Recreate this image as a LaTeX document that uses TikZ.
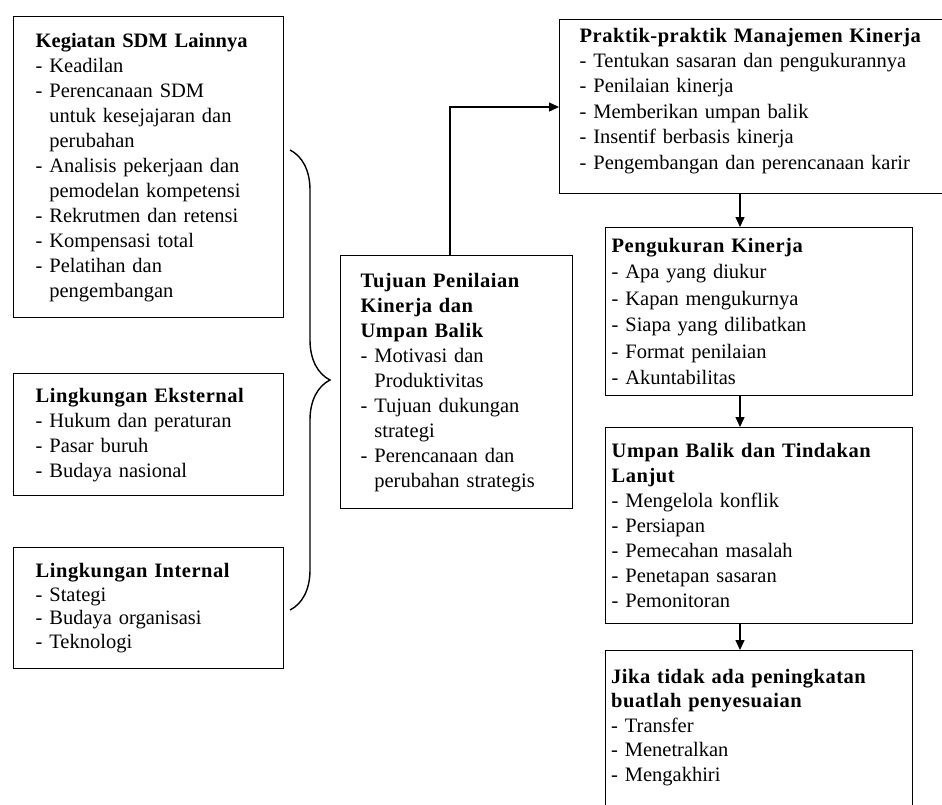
\documentclass[tikz,border=0pt]{standalone}
\usepackage{fontspec}
\setmainfont{Liberation Serif}
\usetikzlibrary{arrows.meta,decorations.pathreplacing,calc}

\tikzset{
  box/.style={draw, line width=1.4pt, anchor=north west, align=left, inner ysep=0pt},
  leading/.style={font=\fontsize{20.5}{#1}\selectfont},
  arr/.style={-{Triangle[length=10pt,width=9pt]}, line width=1.4pt},
}
\newcommand{\ind}{\phantom{-\ }}
\newcommand{\hd}[1]{\textbf{\addfontfeature{LetterSpace=2.5}#1}}

\begin{document}
\begin{tikzpicture}[x=1pt, y=-1pt]
\useasboundingbox (0,0) rectangle (942,804);
% left column
\node[box, leading=25pt, inner xsep=22pt, minimum width=270pt, text width=226pt, minimum height=301pt] (sdm) at (13,16)
  {\textbf{Kegiatan SDM Lainnya}\\- Keadilan\\- Perencanaan SDM\\\ind untuk kesejajaran dan\\\ind perubahan\\- Analisis pekerjaan dan\\\ind pemodelan kompetensi\\- Rekrutmen dan retensi\\- Kompensasi total\\- Pelatihan dan\\\ind pengembangan};
\node[box, leading=25pt, inner xsep=22pt, minimum width=270pt, text width=226pt, minimum height=122pt] (eks) at (13,373)
  {\hd{Lingkungan Eksternal}\\- Hukum dan peraturan\\- Pasar buruh\\- Budaya nasional};
\node[box, leading=23.5pt, inner xsep=22pt, minimum width=270pt, text width=226pt, minimum height=121pt] (int) at (13,547)
  {\hd{Lingkungan Internal}\\- Stategi\\- Budaya organisasi\\- Teknologi};
% brace and centre
\coordinate (bracetop) at (290,150);
\coordinate (bracebot) at (290,610);
\draw[line width=1.4pt, decorate, decoration={brace, amplitude=40pt}] (bracetop) -- (bracebot);
\node[box, leading=25pt, inner xsep=20pt, minimum width=232pt, text width=192pt, minimum height=253pt] (tujuan) at (340,255)
  {\hd{Tujuan Penilaian}\\\hd{Kinerja dan}\\\hd{Umpan Balik}\\- Motivasi dan\\\ind Produktivitas\\- Tujuan dukungan\\\ind strategi\\- Perencanaan dan\\\ind perubahan strategis};
% right column
\node[box, leading=25.4pt, inner xsep=20pt, minimum width=387pt, text width=347pt, minimum height=174pt] (prak) at (559,19)
  {\hd{Praktik-praktik Manajemen Kinerja}\\- Tentukan sasaran dan pengukurannya\\- Penilaian kinerja\\- Memberikan umpan balik\\- Insentif berbasis kinerja\\- Pengembangan dan perencanaan karir\\[-9pt]\mbox{}};
\node[box, leading=26.5pt, inner xsep=6pt, minimum width=307pt, text width=295pt, minimum height=168pt] (ukur) at (605,227)
  {\hd{Pengukuran Kinerja}\\- Apa yang diukur\\- Kapan mengukurnya\\- Siapa yang dilibatkan\\- Format penilaian\\- Akuntabilitas};
\node[box, leading=25pt, inner xsep=6pt, minimum width=307pt, text width=295pt, minimum height=196pt] (umpan) at (605,427)
  {\hd{Umpan Balik dan Tindakan}\\\hd{Lanjut}\\- Mengelola konflik\\- Persiapan\\- Pemecahan masalah\\- Penetapan sasaran\\- Pemonitoran};
\node[box, minimum width=307pt, minimum height=230pt] (jika) at (605,650) {};
\node[leading=24.5pt, anchor=north west, align=left, inner sep=0pt, text width=295pt] (jikatext) at ($(jika.north west)+(6,19)$)
  {\hd{Jika tidak ada peningkatan}\\\hd{buatlah penyesuaian}\\- Transfer\\- Menetralkan\\- Mengakhiri};
% connectors
\coordinate (col) at (740,0);
\coordinate (elbow) at (450,107);
\draw[arr] (prak.south -| col) -- (ukur.north -| col);
\draw[arr] (ukur.south -| col) -- (umpan.north -| col);
\draw[arr] (umpan.south -| col) -- (jika.north -| col);
\draw[arr] (tujuan.north -| elbow) |- (prak.west |- elbow);
\end{tikzpicture}
\end{document}
